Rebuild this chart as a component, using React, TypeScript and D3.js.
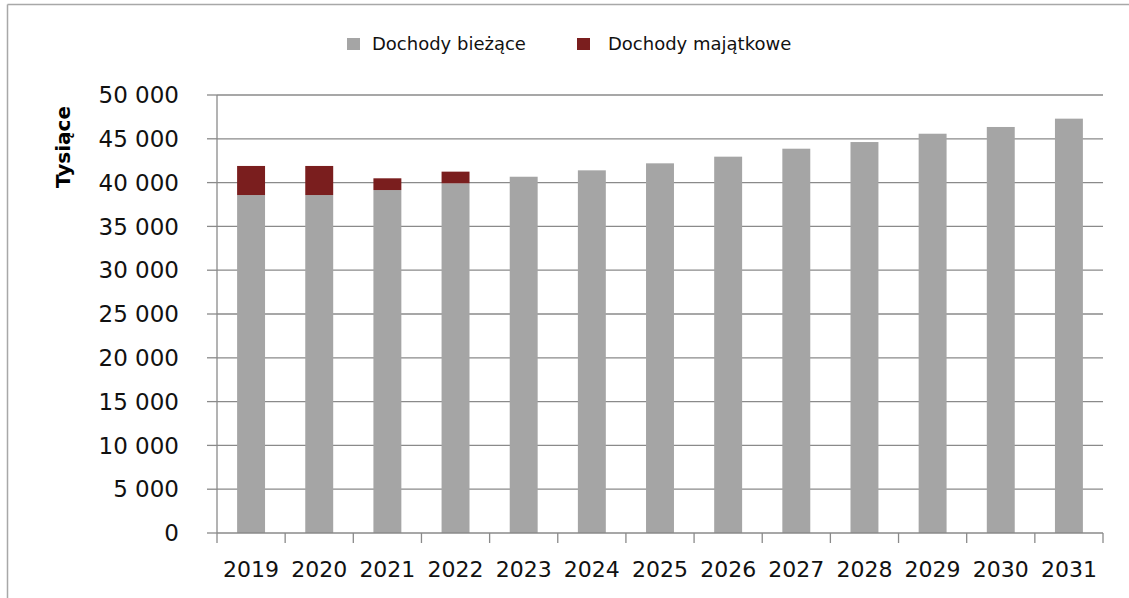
import React from "react";
import * as d3 from "d3";

const years = ["2019","2020","2021","2022","2023","2024","2025","2026","2027","2028","2029","2030","2031"];
const biezace = [38580, 38580, 39150, 39920, 40670, 41400, 42200, 42960, 43870, 44630, 45580, 46350, 47300];
const majatkowe = [3320, 3320, 1340, 1330, 0, 0, 0, 0, 0, 0, 0, 0, 0];
const yTicks = [0, 5000, 10000, 15000, 20000, 25000, 30000, 35000, 40000, 45000, 50000];
const seriesNames = ["Dochody bieżące", "Dochody majątkowe"];

const W = 1129, H = 598;
const left = 217, right = 1103, top = 95, bottom = 533;
const GRAY = "#a5a5a5";
const RED = "#7a1e1e";
const GRID = "#8a8a8a";
const FONT = "DejaVu Sans, sans-serif";

const fmt = (v: number) => {
  const s = String(v);
  return s.length > 3 ? s.slice(0, s.length - 3) + " " + s.slice(-3) : s;
};

export default function App() {
  const x = d3.scaleBand<string>().domain(years).range([left, right]).paddingInner(0.59).paddingOuter(0.295);
  const y = d3.scaleLinear().domain([0, 50000]).range([bottom, top]);
  const step = x.step();
  return (
    <svg width={W} height={H} style={{ position: "absolute", left: 0, top: 0, background: "#fff" }}>
      {/* frame */}
      <line x1={7.5} y1={4.5} x2={W} y2={4.5} stroke="#a8a8a8" strokeWidth={1.5} />
      <line x1={7.5} y1={4.5} x2={7.5} y2={H} stroke="#a8a8a8" strokeWidth={1.5} />
      {/* gridlines */}
      {yTicks.map((t) => (
        <g key={t}>
          {t > 0 && <line x1={left} x2={right} y1={y(t)} y2={y(t)} stroke={GRID} strokeWidth={1.3} />}
          <line x1={left - 10} x2={left} y1={y(t)} y2={y(t)} stroke={GRID} strokeWidth={1.3} />
          <text x={179} y={y(t)} dy="0.36em" textAnchor="end" fontFamily={FONT} fontSize={23} fill="#111">{fmt(t)}</text>
        </g>
      ))}
      {/* bars */}
      {years.map((yr, i) => (
        <g key={yr}>
          <rect x={x(yr)} width={x.bandwidth()} y={y(biezace[i])} height={y(0) - y(biezace[i])} fill={GRAY} />
          {majatkowe[i] > 0 && (
            <rect x={x(yr)} width={x.bandwidth()} y={y(biezace[i] + majatkowe[i])} height={y(biezace[i]) - y(biezace[i] + majatkowe[i])} fill={RED} />
          )}
        </g>
      ))}
      {/* axes */}
      <line x1={left} x2={left} y1={top} y2={bottom} stroke={GRID} strokeWidth={1.3} />
      <line x1={left} x2={right} y1={bottom} y2={bottom} stroke={GRID} strokeWidth={1.3} />
      {d3.range(years.length + 1).map((i) => (
        <line key={i} x1={left + i * step} x2={left + i * step} y1={bottom} y2={bottom + 10} stroke={GRID} strokeWidth={1.3} />
      ))}
      {years.map((yr) => (
        <text key={yr} x={(x(yr) as number) + x.bandwidth() / 2} y={577} textAnchor="middle" fontFamily={FONT} fontSize={22} fill="#111">{yr}</text>
      ))}
      {/* y title */}
      <text transform="translate(70,147) rotate(-90)" textAnchor="middle" fontFamily={FONT} fontWeight="bold" fontSize={20} fill="#000">Tysiące</text>
      {/* legend */}
      <rect x={347} y={38} width={13} height={12} fill={GRAY} />
      <text x={372} y={50} fontFamily={FONT} fontSize={18} fill="#111">{seriesNames[0]}</text>
      <rect x={577} y={38} width={13} height={12} fill={RED} />
      <text x={608} y={50} fontFamily={FONT} fontSize={18} fill="#111">{seriesNames[1]}</text>
    </svg>
  );
}
